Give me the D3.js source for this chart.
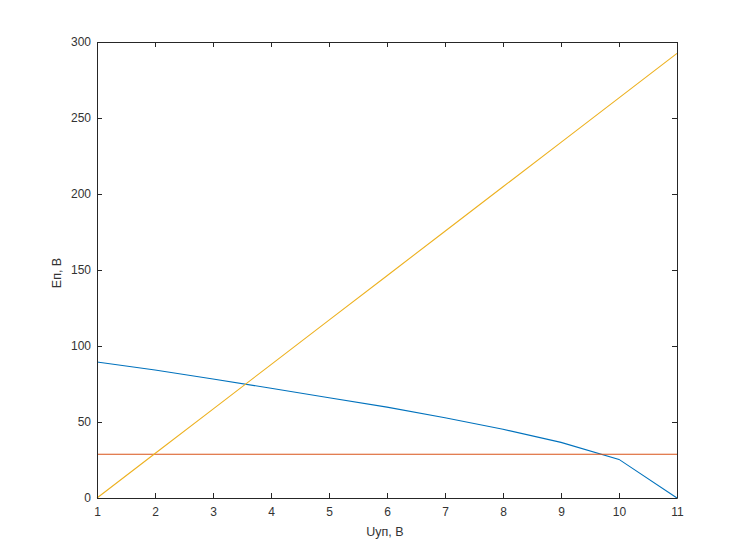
<!DOCTYPE html>
<html><head><meta charset="utf-8">
<script src="https://cdn.jsdelivr.net/npm/d3@7"></script>
<style>body{margin:0;background:#fff;} text{font-family:"Liberation Sans",Arial,sans-serif;}</style>
</head><body><svg id="c" width="746" height="559"></svg>
<script>
const xVals = [1,2,3,4,5,6,7,8,9,10,11];
const seriesE = [89.5,84.2,78.3,72.2,66.0,59.8,52.8,45.2,36.6,25.4,0];
const seriesConst = [28.8,28.8,28.8,28.8,28.8,28.8,28.8,28.8,28.8,28.8,28.8];
const seriesLin = [0,29.25,58.5,87.75,117,146.25,175.5,204.75,234,263.25,292.5];
const xTicks = [1,2,3,4,5,6,7,8,9,10,11];
const yTicks = [0,50,100,150,200,250,300];
const xLabel = "Uуп, В";
const yLabel = "Еп, В";

const svg = d3.select("#c");
const L=97, R=677, T=42, B=498;
const x = d3.scaleLinear().domain([1,11]).range([L,R]);
const y = d3.scaleLinear().domain([0,300]).range([B,T]);
const axCol = "#262626";
const txtCol = "#333333";

const line = d3.line().x((d,i)=>x(xVals[i])).y(d=>y(d));
const series = [[seriesE,"#0072BD"],[seriesConst,"#D95319"],[seriesLin,"#EDB120"]];
const g = svg.append("g");
series.forEach(([s,c])=>{
  g.append("path").attr("d",line(s)).attr("fill","none").attr("stroke",c).attr("stroke-width",1.1);
});

const tl = 5;
const axBottom = svg.append("g").attr("transform",`translate(0,${B})`)
  .call(d3.axisBottom(x).tickValues(xTicks).tickSizeInner(-tl).tickSizeOuter(0).tickPadding(9));
const axTop = svg.append("g").attr("transform",`translate(0,${T})`)
  .call(d3.axisTop(x).tickValues(xTicks).tickSizeInner(-tl).tickSizeOuter(0).tickFormat(""));
const axLeft = svg.append("g").attr("transform",`translate(${L},0)`)
  .call(d3.axisLeft(y).tickValues(yTicks).tickSizeInner(-tl).tickSizeOuter(0).tickPadding(6));
const axRight = svg.append("g").attr("transform",`translate(${R},0)`)
  .call(d3.axisRight(y).tickValues(yTicks).tickSizeInner(-tl).tickSizeOuter(0).tickFormat(""));
[axBottom,axTop,axLeft,axRight].forEach(a=>{
  a.selectAll("path.domain").attr("stroke",axCol).attr("stroke-width",1);
  a.selectAll("line").attr("stroke",axCol);
  a.selectAll("text").attr("fill",txtCol).style("font-size","12px").attr("font-family","Liberation Sans, Arial, sans-serif");
});

svg.append("text").attr("x",(L+R)/2 - 2).attr("y",536).attr("text-anchor","middle")
  .attr("fill",txtCol).style("font-size","12.5px").text(xLabel);
svg.append("text").attr("transform",`translate(61,${(T+B)/2 + 3}) rotate(-90)`).attr("text-anchor","middle")
  .attr("fill",txtCol).style("font-size","12.5px").text(yLabel);
</script></body></html>
